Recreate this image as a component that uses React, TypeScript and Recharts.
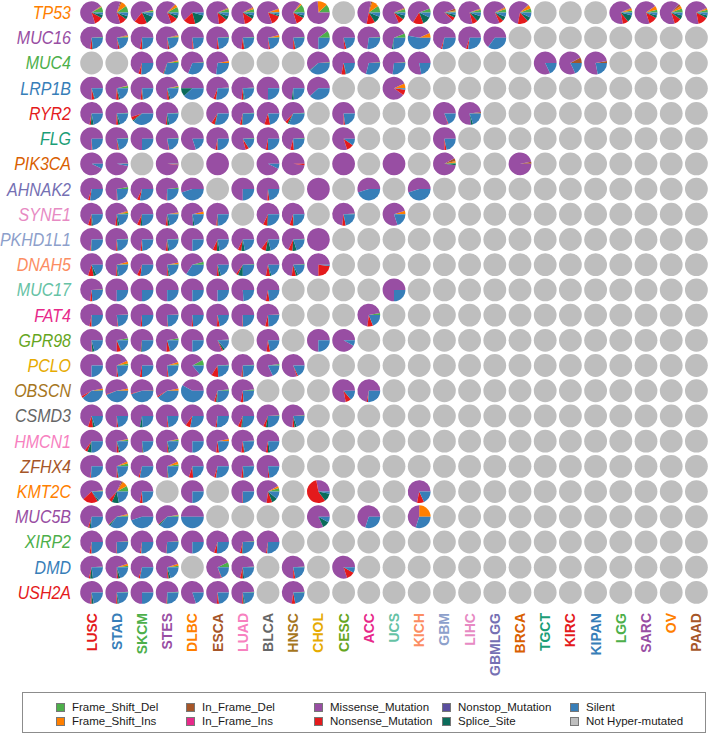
import React from "react";
import { ScatterChart, Scatter, XAxis, YAxis, Sector, Legend } from "recharts";

const FONT = '"Liberation Sans", Arial, sans-serif';
const GRAY = "#bebebe";
const R = 11.4;

const cancers = [
  "LUSC", "STAD", "SKCM", "STES", "DLBC", "ESCA", "LUAD", "BLCA", "HNSC", "CHOL", "CESC", "ACC", "UCS",
  "KICH", "GBM", "LIHC", "GBMLGG", "BRCA", "TGCT", "KIRC", "KIPAN", "LGG", "SARC", "OV", "PAAD",
];
const cancerColors = [
  "#e41a1c", "#377eb8", "#4daf4a", "#984ea3", "#ff7f00", "#a65628", "#f781bf", "#666666", "#a6761d",
  "#e6ab02", "#66a61e", "#e7298a", "#66c2a5", "#fc8d62", "#8da0cb", "#e78ac3", "#7570b3", "#d95f02",
  "#1b9e77", "#e41a1c", "#377eb8", "#4daf4a", "#984ea3", "#ff7f00", "#a65628",
];

const genes = [
  "TP53", "MUC16", "MUC4", "LRP1B", "RYR2", "FLG", "PIK3CA", "AHNAK2", "SYNE1", "PKHD1L1", "DNAH5", "MUC17",
  "FAT4", "GPR98", "PCLO", "OBSCN", "CSMD3", "HMCN1", "ZFHX4", "KMT2C", "MUC5B", "XIRP2", "DMD", "USH2A",
];
const geneColors = [
  "#ff7f00", "#984ea3", "#4daf4a", "#377eb8", "#e41a1c", "#1b9e77", "#d95f02", "#7570b3", "#e78ac3",
  "#8da0cb", "#fc8d62", "#66c2a5", "#e7298a", "#66a61e", "#e6ab02", "#a6761d", "#666666", "#f781bf",
  "#a65628", "#ff7f00", "#984ea3", "#4daf4a", "#377eb8", "#e41a1c",
];

const mutTypes = [
  "Frame_Shift_Del", "Frame_Shift_Ins", "In_Frame_Del", "In_Frame_Ins", "Missense_Mutation",
  "Nonsense_Mutation", "Nonstop_Mutation", "Splice_Site", "Silent",
];
const mutColors = [
  "#4daf4a", "#ff7f00", "#a65628", "#e7298a", "#984ea3", "#e41a1c", "#5a4e9e", "#0b6b5a", "#377eb8",
];

// share of each mutation type (same order as mutTypes); cancers left out = not hyper-mutated
type Row = Record<string, number[]>;

const TP53: Row = {
  LUSC: [8, 1, 1, 0, 70, 12, 0, 5, 3], STAD: [10, 8, 2, 0, 60, 10, 0, 5, 5], SKCM: [3, 1, 0, 0, 60, 18, 0, 12, 6],
  STES: [8, 4, 1, 0, 68, 10, 0, 5, 4], DLBC: [0, 0, 0, 0, 62, 17, 0, 17, 4], ESCA: [5, 1, 1, 0, 70, 12, 0, 6, 5],
  LUAD: [5, 2, 1, 0, 70, 13, 0, 5, 4], BLCA: [1, 4, 1, 0, 75, 14, 0, 2, 3], HNSC: [12, 2, 1, 0, 65, 12, 0, 4, 4],
  CHOL: [12, 14, 0, 0, 74, 0, 0, 0, 0], ACC: [10, 10, 2, 0, 50, 12, 0, 10, 6], UCS: [5, 1, 1, 0, 75, 8, 0, 6, 4],
  KICH: [6, 0, 0, 0, 60, 15, 0, 12, 7], GBM: [2, 1, 3, 0, 82, 5, 0, 4, 3], LIHC: [4, 1, 1, 0, 73, 8, 0, 8, 5],
  GBMLGG: [5, 2, 1, 0, 74, 6, 0, 6, 6], BRCA: [6, 5, 1, 0, 60, 15, 0, 6, 7], LGG: [3, 3, 1, 0, 71, 8, 0, 10, 4],
  SARC: [4, 6, 0, 0, 70, 12, 0, 4, 4], OV: [6, 4, 3, 0, 67, 10, 0, 6, 4], PAAD: [4, 2, 1, 0, 71, 14, 0, 4, 4],
};
const MUC16: Row = {
  LUSC: [1, 0, 0, 0, 72, 3, 0, 1, 23], STAD: [2, 1, 1, 0, 73, 2, 0, 1, 20], SKCM: [0, 0, 0, 0, 72, 3, 0, 1, 24],
  STES: [2, 1, 1, 0, 72, 2, 0, 1, 21], DLBC: [0, 0, 0, 0, 75, 2, 0, 0, 23], ESCA: [1, 0, 0, 0, 73, 3, 0, 0, 23],
  LUAD: [1, 0, 0, 0, 72, 4, 0, 1, 22], BLCA: [1, 3, 0, 0, 72, 2, 0, 0, 22], HNSC: [1, 0, 0, 0, 74, 3, 0, 1, 21],
  CHOL: [10, 0, 0, 0, 65, 0, 0, 0, 25], CESC: [0, 0, 0, 0, 76, 3, 0, 0, 21], ACC: [1, 0, 0, 0, 72, 0, 0, 0, 27],
  UCS: [6, 0, 0, 0, 66, 0, 0, 2, 26], KICH: [0, 7, 0, 0, 40, 0, 0, 0, 53], GBM: [0, 0, 0, 0, 70, 2, 0, 0, 28],
  LIHC: [0, 0, 0, 0, 70, 3, 0, 0, 27], GBMLGG: [0, 0, 0, 0, 65, 0, 0, 0, 35],
};
const MUC4: Row = {
  SKCM: [0, 0, 0, 0, 70, 4, 0, 0, 26], STES: [2, 2, 0, 0, 65, 1, 0, 1, 29], DLBC: [1, 0, 0, 0, 68, 0, 0, 0, 31],
  ESCA: [0, 3, 0, 0, 70, 0, 0, 0, 27], CHOL: [1, 0, 0, 0, 60, 0, 0, 1, 38], CESC: [0, 0, 0, 0, 72, 6, 0, 1, 21],
  ACC: [1, 0, 0, 0, 70, 0, 0, 0, 29], UCS: [1, 0, 0, 0, 72, 0, 0, 0, 27], KICH: [0, 0, 0, 0, 78, 0, 0, 0, 22],
  TGCT: [0, 0, 0, 0, 82, 0, 0, 0, 18], KIRC: [0, 0, 8, 0, 74, 0, 0, 0, 18], KIPAN: [0, 0, 3, 0, 75, 0, 0, 0, 22],
};
const LRP1B: Row = {
  LUSC: [0, 0, 0, 0, 75, 4, 0, 1, 20], STAD: [3, 1, 0, 0, 70, 4, 0, 2, 20], SKCM: [0, 0, 0, 0, 73, 3, 0, 1, 23],
  STES: [2, 1, 0, 0, 72, 3, 0, 2, 20], DLBC: [0, 0, 0, 0, 50, 0, 0, 12, 38], ESCA: [1, 0, 0, 0, 68, 4, 0, 0, 27],
  LUAD: [1, 0, 0, 0, 72, 3, 0, 2, 22], BLCA: [0, 0, 0, 0, 75, 0, 0, 0, 25], HNSC: [0, 0, 0, 0, 73, 0, 0, 3, 24],
  CHOL: [0, 0, 0, 0, 62, 0, 0, 0, 38], UCS: [0, 7, 0, 0, 83, 8, 0, 0, 2],
};
const RYR2: Row = {
  LUSC: [0, 0, 0, 0, 72, 2, 0, 4, 22], STAD: [1, 0, 0, 0, 73, 3, 0, 3, 20], SKCM: [0, 0, 0, 0, 55, 5, 0, 2, 38],
  STES: [1, 0, 0, 0, 72, 2, 0, 3, 22], ESCA: [0, 0, 0, 0, 66, 5, 0, 1, 28], LUAD: [1, 0, 0, 0, 70, 3, 0, 1, 25],
  BLCA: [0, 0, 0, 0, 70, 8, 0, 0, 22], HNSC: [1, 0, 0, 0, 62, 4, 0, 2, 31], CESC: [0, 0, 0, 0, 75, 2, 0, 0, 23],
  GBM: [0, 0, 0, 0, 80, 1, 0, 0, 19], LIHC: [0, 0, 2, 0, 75, 0, 0, 3, 20],
};
const FLG: Row = {
  LUSC: [0, 0, 0, 0, 75, 1, 0, 0, 24], STAD: [1, 0, 0, 0, 75, 2, 0, 1, 21], SKCM: [0, 0, 0, 0, 75, 0, 0, 0, 25],
  STES: [1, 0, 0, 0, 76, 1, 0, 0, 22], DLBC: [0, 0, 0, 0, 80, 0, 0, 0, 20], ESCA: [0, 0, 0, 0, 72, 3, 0, 0, 25],
  LUAD: [1, 0, 0, 0, 78, 5, 0, 0, 16], BLCA: [0, 0, 0, 0, 72, 3, 0, 0, 25], HNSC: [1, 0, 0, 0, 70, 5, 0, 0, 24],
  CESC: [0, 0, 0, 0, 80, 10, 0, 0, 10], GBM: [0, 0, 0, 0, 75, 3, 0, 0, 22],
};
const PIK3CA: Row = {
  LUSC: [0, 0, 0, 0, 93, 0, 0, 0, 7], STAD: [0, 0, 1, 0, 96, 0, 0, 0, 3], STES: [0, 0, 1, 0, 97, 1, 0, 0, 1],
  ESCA: [0, 0, 0, 0, 100, 0, 0, 0, 0], BLCA: [0, 0, 0, 0, 93, 0, 0, 0, 7], HNSC: [0, 0, 0, 0, 98, 2, 0, 0, 0],
  CESC: [0, 0, 0, 0, 100, 0, 0, 0, 0], UCS: [0, 0, 0, 0, 100, 0, 0, 0, 0], GBM: [2, 2, 4, 0, 90, 0, 0, 2, 0],
  BRCA: [0, 0, 3, 0, 97, 0, 0, 0, 0],
};
const AHNAK2: Row = {
  LUSC: [0, 0, 0, 0, 70, 3, 0, 0, 27], STAD: [3, 0, 0, 0, 72, 1, 0, 0, 24], SKCM: [0, 0, 0, 0, 68, 4, 0, 0, 28],
  STES: [2, 0, 0, 0, 72, 1, 0, 0, 25], DLBC: [0, 0, 0, 0, 55, 0, 0, 0, 45], LUAD: [0, 0, 0, 0, 75, 0, 0, 0, 25],
  BLCA: [0, 0, 0, 0, 74, 3, 0, 0, 23], CHOL: [0, 0, 0, 0, 100, 0, 0, 0, 0], ACC: [0, 0, 0, 0, 55, 0, 0, 0, 45],
  KICH: [0, 0, 0, 0, 55, 0, 0, 0, 45],
};
const SYNE1: Row = {
  LUSC: [0, 0, 0, 0, 70, 5, 0, 2, 23], STAD: [2, 2, 1, 0, 68, 3, 0, 3, 21], SKCM: [0, 0, 0, 0, 68, 5, 0, 2, 25],
  STES: [1, 1, 1, 0, 70, 3, 0, 3, 21], DLBC: [0, 4, 0, 0, 72, 0, 0, 2, 22], ESCA: [0, 0, 0, 0, 73, 2, 0, 1, 24],
  BLCA: [0, 0, 0, 0, 68, 6, 0, 1, 25], HNSC: [0, 0, 0, 0, 70, 5, 0, 1, 24], CESC: [1, 0, 0, 0, 72, 5, 0, 0, 22],
  UCS: [0, 5, 0, 0, 75, 0, 0, 0, 20],
};
const PKHD1L1: Row = {
  LUSC: [0, 0, 0, 0, 73, 1, 0, 1, 25], STAD: [1, 0, 0, 0, 73, 2, 0, 1, 23], SKCM: [0, 0, 0, 0, 73, 2, 0, 1, 24],
  STES: [1, 0, 0, 0, 72, 3, 0, 2, 22], DLBC: [0, 0, 0, 0, 75, 0, 0, 0, 25], ESCA: [0, 0, 0, 0, 68, 6, 0, 4, 22],
  LUAD: [0, 0, 0, 0, 68, 5, 0, 5, 22], BLCA: [0, 0, 0, 0, 65, 7, 0, 7, 21], HNSC: [1, 0, 0, 0, 67, 6, 0, 6, 20],
  CHOL: [0, 0, 0, 0, 100, 0, 0, 0, 0],
};
const DNAH5: Row = {
  LUSC: [0, 0, 0, 0, 70, 8, 0, 4, 18], STAD: [1, 3, 0, 0, 70, 2, 0, 2, 22], SKCM: [0, 0, 0, 0, 68, 5, 0, 0, 27],
  STES: [1, 2, 0, 0, 72, 2, 0, 2, 21], DLBC: [4, 0, 0, 0, 62, 0, 0, 0, 34], ESCA: [0, 0, 0, 0, 74, 3, 0, 3, 20],
  LUAD: [1, 0, 0, 0, 64, 3, 0, 7, 25], BLCA: [0, 0, 0, 0, 72, 6, 0, 2, 20], HNSC: [1, 0, 0, 0, 72, 6, 0, 3, 18],
  CHOL: [0, 0, 0, 0, 75, 23, 0, 0, 2],
};
const MUC17: Row = {
  LUSC: [1, 0, 0, 0, 72, 3, 0, 0, 24], STAD: [0, 0, 0, 0, 75, 0, 0, 0, 25], SKCM: [0, 0, 0, 0, 75, 0, 0, 0, 25],
  STES: [0, 0, 0, 0, 75, 0, 0, 0, 25], DLBC: [0, 0, 0, 0, 75, 0, 0, 0, 25], ESCA: [0, 0, 0, 0, 75, 0, 0, 0, 25],
  LUAD: [0, 0, 0, 0, 76, 0, 0, 0, 24], BLCA: [0, 0, 0, 0, 72, 5, 0, 0, 23], UCS: [0, 0, 0, 0, 75, 0, 0, 0, 25],
};
const FAT4: Row = {
  LUSC: [0, 0, 0, 0, 72, 3, 0, 0, 25], STAD: [1, 0, 0, 0, 75, 1, 0, 0, 23], SKCM: [0, 0, 0, 0, 73, 2, 0, 0, 25],
  STES: [1, 0, 0, 0, 74, 1, 0, 0, 24], DLBC: [0, 0, 0, 0, 74, 2, 0, 0, 24], ESCA: [0, 0, 0, 0, 74, 4, 0, 0, 22],
  LUAD: [0, 0, 0, 0, 74, 1, 0, 0, 25], BLCA: [1, 0, 0, 0, 70, 5, 0, 0, 24], ACC: [3, 0, 0, 0, 70, 8, 0, 0, 19],
};
const GPR98: Row = {
  LUSC: [0, 0, 0, 0, 75, 1, 0, 3, 21], STAD: [3, 0, 0, 0, 72, 6, 0, 1, 18], SKCM: [0, 0, 0, 0, 73, 1, 0, 1, 25],
  STES: [3, 0, 0, 0, 71, 5, 0, 1, 20], DLBC: [0, 0, 0, 0, 75, 0, 0, 0, 25], ESCA: [1, 0, 0, 0, 80, 2, 0, 3, 14],
  BLCA: [0, 0, 0, 0, 73, 5, 0, 0, 22], CHOL: [0, 0, 0, 0, 75, 0, 0, 0, 25], CESC: [0, 0, 0, 0, 92, 0, 0, 0, 8],
};
const PCLO: Row = {
  LUSC: [0, 0, 0, 0, 75, 0, 0, 0, 25], STAD: [3, 4, 0, 0, 68, 2, 0, 0, 23], SKCM: [0, 0, 0, 0, 72, 3, 0, 0, 25],
  STES: [2, 3, 0, 0, 70, 2, 0, 0, 23], DLBC: [8, 0, 0, 0, 78, 0, 0, 0, 14], ESCA: [1, 0, 0, 0, 65, 10, 0, 0, 24],
  LUAD: [1, 0, 0, 0, 72, 2, 0, 1, 24], BLCA: [2, 0, 0, 0, 80, 0, 0, 0, 18], HNSC: [0, 0, 0, 0, 80, 2, 0, 0, 18],
};
const OBSCN: Row = {
  LUSC: [1, 2, 0, 0, 55, 3, 0, 0, 39], STAD: [0, 3, 0, 0, 52, 1, 0, 0, 44], SKCM: [0, 0, 1, 0, 53, 1, 0, 0, 45],
  STES: [0, 3, 0, 0, 55, 2, 0, 0, 40], DLBC: [0, 0, 0, 0, 42, 0, 0, 0, 58], ESCA: [2, 0, 0, 0, 68, 3, 0, 2, 25],
  LUAD: [2, 0, 0, 0, 70, 4, 0, 0, 24], CESC: [0, 0, 0, 0, 78, 8, 0, 0, 14], ACC: [0, 0, 0, 0, 72, 2, 0, 0, 26],
};
const CSMD3: Row = {
  LUSC: [0, 0, 0, 0, 70, 7, 0, 3, 20], STAD: [0, 0, 0, 0, 75, 2, 0, 0, 23], SKCM: [0, 0, 0, 0, 72, 0, 0, 4, 24],
  STES: [0, 0, 0, 0, 75, 2, 0, 0, 23], DLBC: [0, 0, 0, 0, 65, 7, 0, 0, 28], ESCA: [0, 0, 0, 0, 72, 2, 0, 0, 26],
  LUAD: [0, 0, 0, 0, 68, 5, 0, 2, 25], BLCA: [1, 0, 0, 0, 67, 4, 0, 3, 25], HNSC: [1, 0, 0, 0, 73, 3, 0, 3, 20],
};
const HMCN1: Row = {
  LUSC: [0, 0, 0, 0, 65, 4, 0, 6, 25], STAD: [2, 1, 0, 0, 72, 3, 0, 2, 20], SKCM: [0, 0, 0, 0, 75, 1, 0, 1, 23],
  STES: [2, 1, 0, 0, 72, 2, 0, 2, 21], DLBC: [0, 0, 0, 0, 75, 0, 0, 0, 25], ESCA: [0, 3, 0, 0, 70, 4, 0, 0, 23],
  LUAD: [1, 0, 0, 0, 72, 4, 0, 1, 22], BLCA: [0, 0, 0, 0, 72, 3, 0, 3, 22],
};
const ZFHX4: Row = {
  LUSC: [0, 0, 0, 0, 73, 1, 0, 0, 26], STAD: [4, 3, 0, 0, 68, 2, 0, 1, 22], SKCM: [0, 0, 0, 0, 70, 2, 0, 0, 28],
  STES: [3, 4, 0, 0, 68, 1, 0, 1, 23], DLBC: [0, 0, 0, 0, 70, 6, 0, 0, 24], ESCA: [0, 0, 0, 0, 70, 3, 0, 0, 27],
  LUAD: [1, 0, 0, 0, 72, 3, 0, 1, 23], BLCA: [0, 0, 0, 0, 75, 2, 0, 0, 23],
};
const KMT2C: Row = {
  LUSC: [1, 1, 0, 0, 60, 22, 0, 2, 14], STAD: [8, 8, 2, 0, 45, 5, 0, 10, 22], SKCM: [0, 0, 0, 0, 72, 4, 0, 0, 24],
  DLBC: [0, 0, 0, 0, 75, 0, 0, 0, 25], LUAD: [0, 0, 0, 0, 74, 1, 0, 0, 25], BLCA: [5, 3, 0, 0, 65, 8, 0, 8, 11],
  CHOL: [0, 0, 0, 0, 28, 57, 0, 12, 3], KICH: [0, 0, 0, 0, 72, 10, 0, 0, 18],
};
const MUC5B: Row = {
  LUSC: [0, 0, 0, 0, 70, 2, 0, 2, 26], STAD: [2, 2, 0, 0, 58, 1, 0, 2, 35], SKCM: [0, 0, 0, 0, 55, 0, 0, 0, 45],
  STES: [2, 1, 0, 0, 58, 1, 0, 2, 36], DLBC: [0, 0, 0, 0, 50, 0, 0, 0, 50], CHOL: [0, 0, 0, 0, 82, 0, 0, 10, 8],
  ACC: [0, 0, 0, 0, 70, 0, 0, 0, 30], KICH: [0, 25, 0, 0, 45, 0, 0, 0, 30],
};
const XIRP2: Row = {
  LUSC: [0, 0, 0, 0, 72, 3, 0, 0, 25], STAD: [1, 0, 0, 0, 73, 1, 0, 0, 25], SKCM: [0, 0, 0, 0, 72, 2, 0, 0, 26],
  STES: [1, 0, 0, 0, 72, 1, 0, 0, 26], DLBC: [0, 0, 0, 0, 75, 0, 0, 0, 25], ESCA: [0, 0, 0, 0, 70, 4, 0, 0, 26],
  LUAD: [1, 0, 0, 0, 70, 3, 0, 1, 25], BLCA: [0, 0, 0, 0, 72, 2, 0, 0, 26],
};
const DMD: Row = {
  LUSC: [1, 0, 0, 0, 70, 2, 0, 4, 23], STAD: [2, 3, 0, 0, 70, 2, 0, 3, 20], SKCM: [0, 0, 0, 0, 70, 2, 0, 0, 28],
  STES: [2, 3, 0, 0, 70, 2, 0, 3, 20], ESCA: [7, 0, 0, 0, 73, 1, 0, 0, 19], LUAD: [1, 0, 0, 0, 70, 4, 0, 2, 23],
  HNSC: [1, 0, 0, 0, 74, 3, 0, 0, 22], CESC: [0, 0, 0, 0, 80, 12, 0, 0, 8],
};
const USH2A: Row = {
  LUSC: [0, 0, 0, 0, 73, 2, 0, 3, 22], STAD: [1, 0, 0, 0, 73, 2, 0, 2, 22], SKCM: [0, 0, 0, 0, 75, 0, 0, 0, 25],
  STES: [1, 0, 0, 0, 73, 1, 0, 1, 24], DLBC: [0, 0, 0, 0, 80, 0, 0, 0, 20], ESCA: [0, 0, 0, 0, 74, 3, 0, 0, 23],
  LUAD: [1, 0, 0, 0, 73, 2, 0, 2, 22], HNSC: [1, 0, 0, 0, 72, 5, 0, 0, 22],
};

const geneRows: Row[] = [
  TP53, MUC16, MUC4, LRP1B, RYR2, FLG, PIK3CA, AHNAK2, SYNE1, PKHD1L1, DNAH5, MUC17,
  FAT4, GPR98, PCLO, OBSCN, CSMD3, HMCN1, ZFHX4, KMT2C, MUC5B, XIRP2, DMD, USH2A,
];

const cells = genes.flatMap((gene, gi) =>
  cancers.map((cancer, ci) => ({ x: ci, y: gi, gene, cancer, counts: geneRows[gi][cancer] || null }))
);

const MiniPie = (props: any) => {
  const { cx, cy, payload } = props;
  const counts: number[] | null = payload.counts;
  if (!counts) return <circle cx={cx} cy={cy} r={R} fill={GRAY} />;
  const total = counts.reduce((a, b) => a + b, 0);
  let acc = 0;
  return (
    <g>
      {counts.map((v, i) => {
        if (!v) return null;
        const start = (acc / total) * 360;
        acc += v;
        const end = (acc / total) * 360;
        return (
          <Sector key={i} cx={cx} cy={cy} innerRadius={0} outerRadius={R}
            startAngle={start} endAngle={end} fill={mutColors[i]} stroke="none" />
        );
      })}
    </g>
  );
};

const CancerTick = (props: any) => {
  const { x, y, payload } = props;
  const i = payload.value;
  return (
    <text x={x} y={y} transform={`rotate(-90 ${x} ${y})`} dy="0.36em" textAnchor="end"
      fill={cancerColors[i]} fontSize={14} fontWeight="bold" fontFamily={FONT}>
      {cancers[i]}
    </text>
  );
};

// gene names are a little taller than they are wide in the original
const GeneTick = (props: any) => {
  const { x, y, payload } = props;
  const i = payload.value;
  return (
    <text x={0} y={0} transform={`translate(${x} ${y}) scale(1 1.12)`} dy="0.36em" textAnchor="end"
      fill={geneColors[i]} fontSize={16} fontStyle="italic" fontFamily={FONT}>
      {genes[i]}
    </text>
  );
};

const colX = [33, 163, 291, 419, 547];

const MutLegend = () => (
  <div style={{
    position: "relative", width: 684, height: 41, border: "1px solid #8c8c8c",
    boxSizing: "border-box", fontFamily: FONT, fontSize: 11.5, color: "#1a1a1a",
  }}>
    {[...mutTypes, "Not Hyper-mutated"].map((name, i) => {
      const color = i < mutColors.length ? mutColors[i] : GRAY;
      const left = colX[Math.floor(i / 2)];
      const top = i % 2 === 0 ? 7 : 21;
      return (
        <div key={name} style={{ position: "absolute", left, top, height: 14, display: "flex", alignItems: "center", whiteSpace: "nowrap" }}>
          <span style={{ width: 7, height: 7, background: color, border: "0.5px solid #777", marginRight: 7, display: "inline-block" }} />
          <span>{name}</span>
        </div>
      );
    })}
  </div>
);

export default function App() {
  return (
    <div style={{ position: "absolute", left: 0, top: 0, width: 709, height: 736, background: "#fff" }}>
      <ScatterChart width={709} height={736} margin={{ top: 0, right: 0, bottom: 0, left: 0 }}>
        <XAxis type="number" dataKey="x" domain={[-0.5, 24.5]} ticks={cancers.map((_, i) => i)} interval={0}
          axisLine={false} tickLine={false} height={131} tick={<CancerTick />} />
        <YAxis type="number" dataKey="y" domain={[-0.5, 23.5]} reversed ticks={genes.map((_, i) => i)} interval={0}
          axisLine={false} tickLine={false} width={79} tick={<GeneTick />} />
        <Legend verticalAlign="middle" align="center" content={() => <MutLegend />}
          wrapperStyle={{ left: 22, top: 692, width: 684, height: 41 }} />
        <Scatter data={cells} shape={<MiniPie />} isAnimationActive={false} />
      </ScatterChart>
    </div>
  );
}
